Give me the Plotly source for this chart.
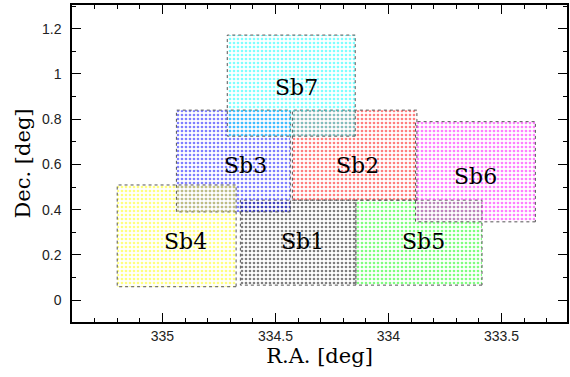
import plotly.graph_objects as go

# Field footprints (deg)
fields = ["Sb1", "Sb2", "Sb3", "Sb4", "Sb5", "Sb6", "Sb7"]
ra_min = [334.144, 333.874, 334.434, 334.674, 333.586, 333.350, 334.147]
ra_max = [334.655, 334.425, 334.938, 335.200, 334.144, 333.880, 334.713]
dec_min = [0.066, 0.442, 0.390, 0.059, 0.066, 0.346, 0.725]
dec_max = [0.442, 0.840, 0.840, 0.509, 0.442, 0.789, 1.172]
colors = ["black", "red", "blue", "yellow", "lime", "magenta", "cyan"]
label_ra = [334.381, 334.139, 334.633, 334.897, 333.847, 333.614, 334.408]
label_dec = [0.261, 0.597, 0.597, 0.261, 0.261, 0.548, 0.938]

fig = go.Figure()
for name, x0, x1, y0, y1, c in zip(fields, ra_min, ra_max, dec_min, dec_max, colors):
    fig.add_trace(go.Scatter(
        x=[x0, x1, x1, x0, x0], y=[y0, y0, y1, y1, y0],
        mode="lines", fill="toself", name=name,
        line=dict(color="#555", width=1, dash="dot"),
        fillcolor="rgba(0,0,0,0)",
        fillpattern=dict(shape=".", fgcolor=c, bgcolor="rgba(0,0,0,0)",
                         size=4, solidity=0.35),
        hoverinfo="skip", showlegend=False,
    ))

for name, x, y in zip(fields, label_ra, label_dec):
    fig.add_annotation(x=x, y=y, text=name, showarrow=False,
                       font=dict(family="DejaVu Serif, Liberation Serif, serif",
                                 size=22, color="black"))

axis_common = dict(
    showline=True, linecolor="black", linewidth=1.5, mirror="allticks",
    ticks="inside", ticklen=9, tickwidth=1, tickcolor="black",
    showgrid=False, zeroline=False,
    tickfont=dict(family="Liberation Sans, Arial, sans-serif", size=14, color="#222"),
    title_font=dict(family="DejaVu Serif, Liberation Serif, serif", size=21, color="black"),
    minor=dict(ticks="inside", ticklen=4.5, tickwidth=1, tickcolor="black", dtick=0.1, showgrid=False),
)

fig.update_xaxes(range=[335.4, 333.21], tickvals=[335, 334.5, 334, 333.5],
                 ticktext=["335", "334.5", "334", "333.5"],
                 title_text="R.A. [deg]", title_standoff=6, **axis_common)
fig.update_yaxes(range=[-0.097, 1.305], tickvals=[0, 0.2, 0.4, 0.6, 0.8, 1, 1.2],
                 ticktext=["0", "0.2", "0.4", "0.6", "0.8", "1", "1.2"],
                 ticklabelstandoff=6,
                 title_text="Dec. [deg]", title_standoff=6, **axis_common)

fig.update_layout(
    width=570, height=377,
    margin=dict(l=72, r=1, t=5, b=55),
    plot_bgcolor="white", paper_bgcolor="white",
)

fig.write_html("out.html")
